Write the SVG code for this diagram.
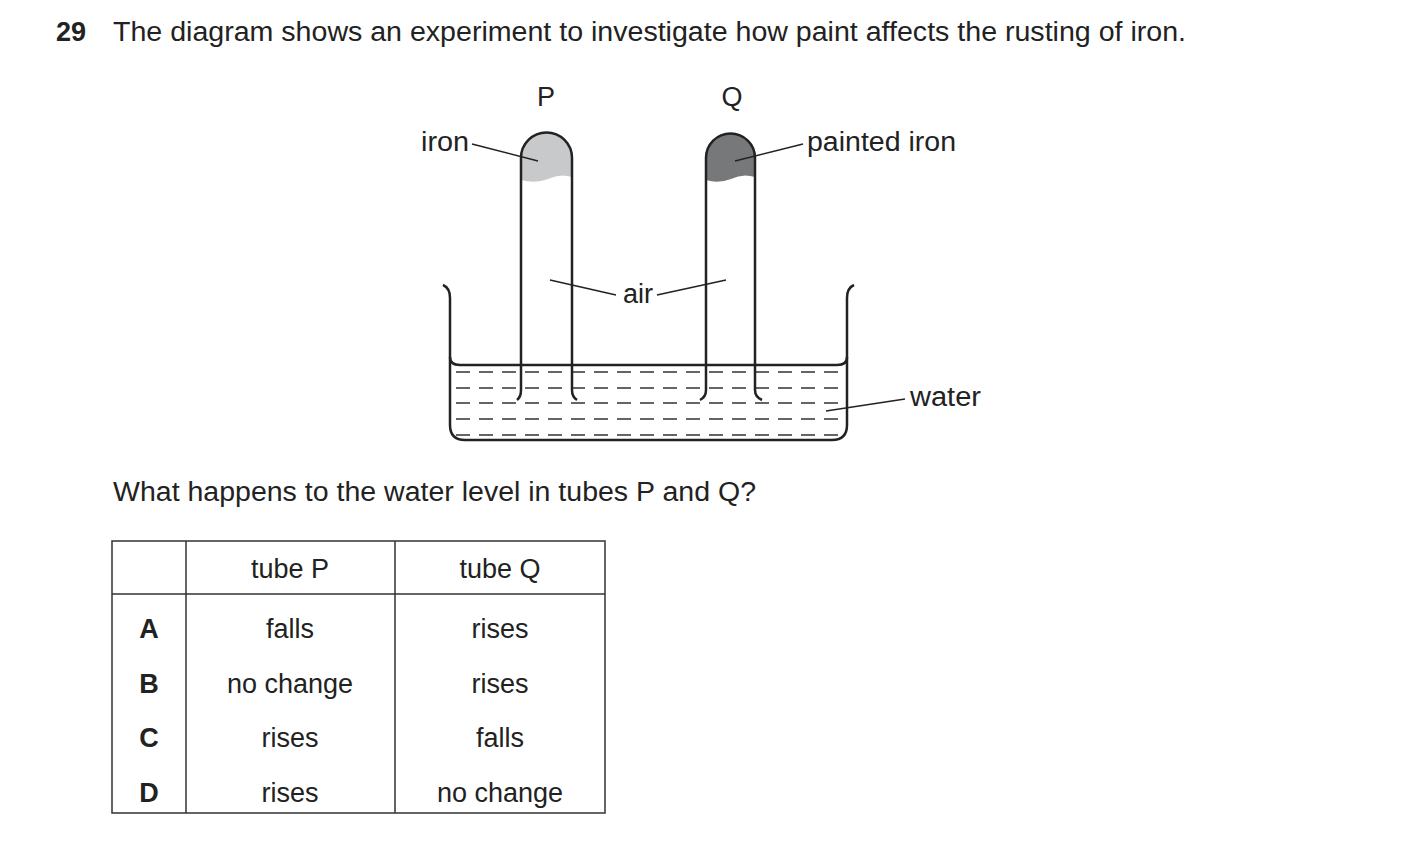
<svg xmlns="http://www.w3.org/2000/svg" width="1403" height="864" viewBox="0 0 1403 864">
<style>
text{font-family:"Liberation Sans",Arial,sans-serif;font-size:27px;fill:#222}
.l{stroke:#222;stroke-width:2.5;fill:none}
.t{stroke:#222;stroke-width:1.5;fill:none}
.d{stroke:#333;stroke-width:1.3;stroke-dasharray:14,9;fill:none}
.g{stroke:#333;stroke-width:1.5}
.c{text-anchor:middle}
</style>
<rect width="1403" height="864" fill="#fff"/>
<text x="56" y="41" font-weight="bold">29</text>
<text x="113" y="41" textLength="1073" lengthAdjust="spacingAndGlyphs">The diagram shows an experiment to investigate how paint affects the rusting of iron.</text>
<text x="546" y="106" class="c">P</text>
<text x="732" y="106" class="c">Q</text>
<g id="water">
<path d="M456,372H843M456,388H843M456,403H843M456,419H843M456,435H843" class="d"/>
</g>
<g id="tubeP">
<path d="M521,158 A25.5,25.5 0 0 1 572,158 V177 Q560,173 548,179 Q535,184 521,180 Z" fill="#c8c9ca"/>
<path d="M517,400 Q521,397 521,390 V158 A25.5,25.5 0 0 1 572,158 V390 Q572,397 577,400" class="l"/>
</g>
<g id="tubeQ">
<path d="M706,158 A24.5,24.5 0 0 1 755,158 V177 Q743,173 731,179 Q718,184 706,180 Z" fill="#777879"/>
<path d="M700,400 Q706,397 706,390 V158 A24.5,24.5 0 0 1 755,158 V390 Q755,397 762,400" class="l"/>
</g>
<g id="beaker">
<path d="M443,285 Q450,288 450,298 V425 Q450,440 465,440 H832 Q847,440 847,425 V298 Q847,288 854,285" class="l"/>
<path d="M450,357 Q450,365 460,365 H837 Q847,365 847,357" class="l"/>
</g>
<g id="labels">
<text x="421" y="151" textLength="48" lengthAdjust="spacingAndGlyphs">iron</text>
<path d="M472,144 L538,161" class="t"/>
<text x="807" y="151" textLength="149" lengthAdjust="spacingAndGlyphs">painted iron</text>
<path d="M803,144 L735,161" class="t"/>
<text x="623" y="303">air</text>
<path d="M550,280 L616,295 M657,295 L726,280" class="t"/>
<text x="910" y="406" textLength="71" lengthAdjust="spacingAndGlyphs">water</text>
<path d="M826,411 L905,399" class="t"/>
</g>
<text x="113" y="501" textLength="643" lengthAdjust="spacingAndGlyphs">What happens to the water level in tubes P and Q?</text>
<g id="table">
<path d="M112,541H605V813H112Z M186,541V813 M395,541V813 M112,594H605" class="g" fill="none"/>
<text x="290" y="578" class="c">tube P</text>
<text x="500" y="578" class="c">tube Q</text>
<text x="149" y="638" class="c" font-weight="bold">A</text>
<text x="290" y="638" class="c">falls</text>
<text x="500" y="638" class="c">rises</text>
<text x="149" y="693" class="c" font-weight="bold">B</text>
<text x="290" y="693" class="c">no change</text>
<text x="500" y="693" class="c">rises</text>
<text x="149" y="747" class="c" font-weight="bold">C</text>
<text x="290" y="747" class="c">rises</text>
<text x="500" y="747" class="c">falls</text>
<text x="149" y="802" class="c" font-weight="bold">D</text>
<text x="290" y="802" class="c">rises</text>
<text x="500" y="802" class="c">no change</text>
</g>
</svg>
